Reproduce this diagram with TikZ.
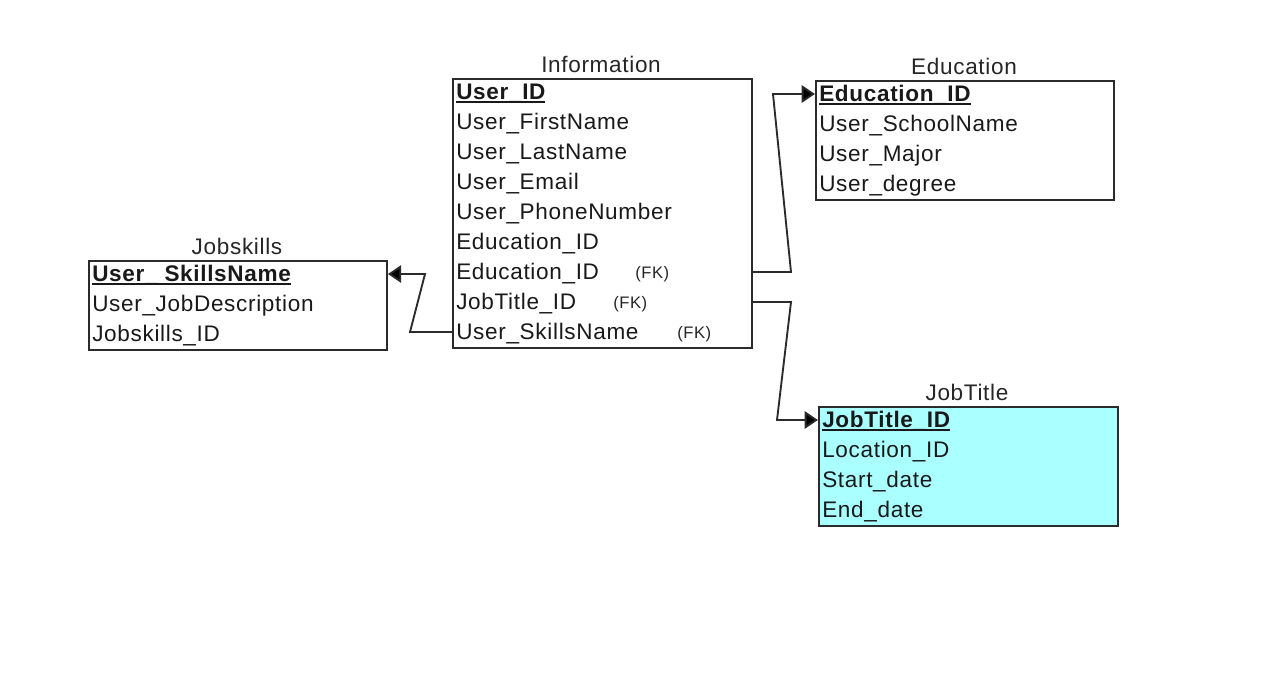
\documentclass[tikz,border=0pt]{standalone}
\usepackage{fontspec}
\setmainfont{Liberation Sans}[LetterSpace=3]
\usetikzlibrary{arrows.meta}
\definecolor{jtfill}{HTML}{AAFFFF}
\definecolor{edgecol}{HTML}{2B2B2B}
\newcommand\pkey[1]{\setbox0\hbox{\bfseries #1}\rlap{\vrule height -1.6pt depth 2.9pt width \wd0}\box0}
\begin{document}
\begin{tikzpicture}[x=0.75pt,y=-0.75pt,
  tbl/.style={draw=edgecol,line width=1.4pt,anchor=north west,inner sep=0pt},
  row/.style={anchor=base west,inner sep=0pt,font=\fontsize{16.9pt}{18pt}\selectfont,text=black!90},
  ttl/.style={anchor=base,inner sep=0pt,font=\fontsize{16.9pt}{18pt}\selectfont,text=black!85},
  fk/.style={anchor=base west,inner sep=0pt,font=\fontsize{12.5pt}{14pt}\selectfont,text=black!85},
  conn/.style={draw=edgecol,line width=1.4pt,-{Triangle[length=10pt,width=13pt,fill=black]}}]
\useasboundingbox (0,0) rectangle (1274,678);
\fill[white] (0,0) rectangle (1274,678);

% Information
\node[tbl,minimum width=224.25pt,minimum height=202pt] (info) at (452,78) {};
\node[ttl] (infoT) at (601,72) {Information};
\node[row] (infoR1) at (456,99) {\pkey{User\_ID}};
\node[row] (infoR2) at (456,129) {User\_FirstName};
\node[row] (infoR3) at (456,159) {User\_LastName};
\node[row] (infoR4) at (456,189) {User\_Email};
\node[row] (infoR5) at (456,219) {User\_PhoneNumber};
\node[row] (infoR6) at (456,249) {Education\_ID};
\node[row] (infoR7) at (456,279) {Education\_ID};
\node[row] (infoR8) at (456,309) {JobTitle\_ID};
\node[row] (infoR9) at (456,339) {User\_SkillsName};
\node[fk] (fk1) at (635,278) {(FK)};
\node[fk] (fk2) at (613,308) {(FK)};
\node[fk] (fk3) at (677,338) {(FK)};

% Education
\node[tbl,minimum width=223.5pt,minimum height=89.5pt] (edu) at (815,80) {};
\node[ttl] (eduT) at (964,74) {Education};
\node[row] (eduR1) at (819,101) {\pkey{Education\_ID}};
\node[row] (eduR2) at (819,131) {User\_SchoolName};
\node[row] (eduR3) at (819,161) {User\_Major};
\node[row] (eduR4) at (819,191) {User\_degree};

% Jobskills
\node[tbl,minimum width=223.5pt,minimum height=67pt] (js) at (88,260) {};
\node[ttl] (jsT) at (237,254) {Jobskills};
\node[row] (jsR1) at (92,281) {\pkey{User\_\ SkillsName}};
\node[row] (jsR2) at (92,311) {User\_JobDescription};
\node[row] (jsR3) at (92,341) {Jobskills\_ID};

% JobTitle
\node[tbl,fill=jtfill,minimum width=224.25pt,minimum height=89.5pt] (jt) at (818,406) {};
\node[ttl] (jtT) at (967,400) {JobTitle};
\node[row] (jtR1) at (822,427) {\pkey{JobTitle\_ID}};
\node[row] (jtR2) at (822,457) {Location\_ID};
\node[row] (jtR3) at (822,487) {Start\_date};
\node[row] (jtR4) at (822,517) {End\_date};

% connectors
\draw[conn] (info.east |- 0,272) -- (791,272) -- (773,94) -- (edu.west |- 0,94);
\draw[conn] (info.east |- 0,302) -- (791,302) -- (777,420) -- (jt.west |- 0,420);
\draw[conn] (info.west |- 0,332) -- (410,332) -- (425,274) -- (js.east |- 0,274);
\end{tikzpicture}
\end{document}
